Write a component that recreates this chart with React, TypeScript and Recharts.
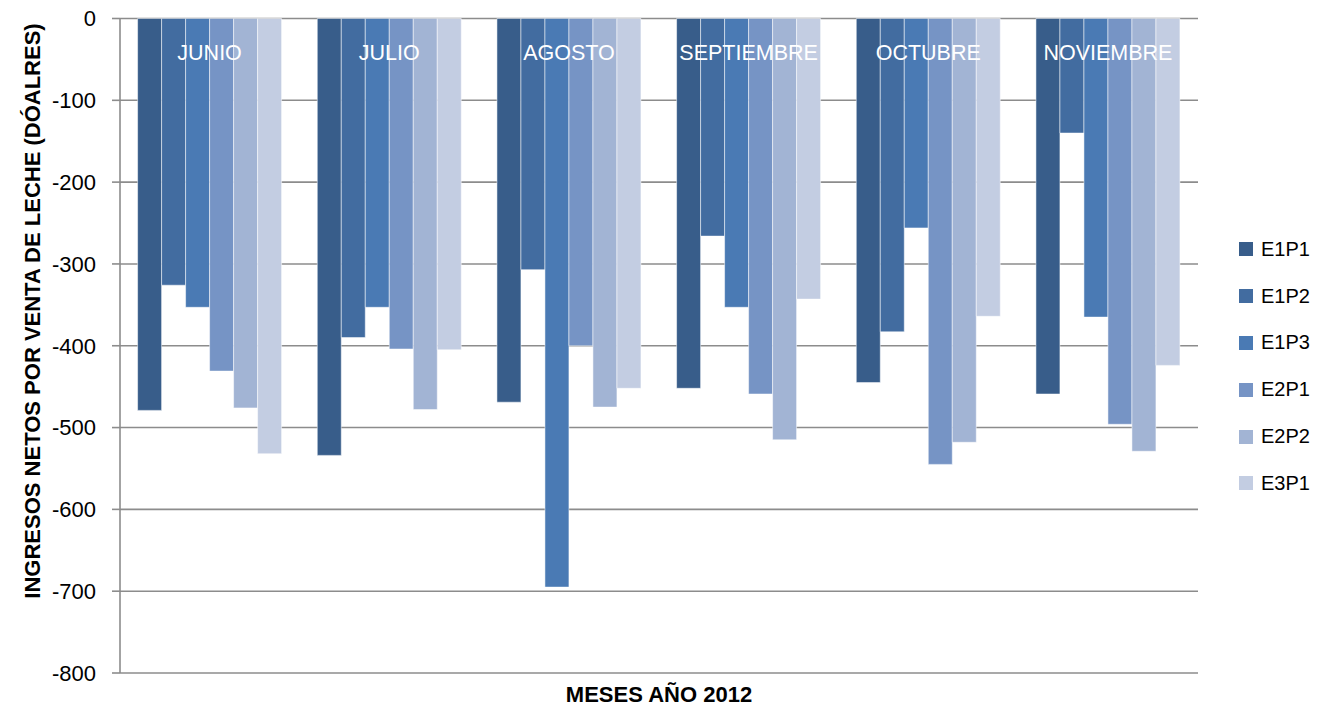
import { BarChart, Bar, XAxis, YAxis, CartesianGrid, LabelList } from 'recharts'

const MESES = ['JUNIO', 'JULIO', 'AGOSTO', 'SEPTIEMBRE', 'OCTUBRE', 'NOVIEMBRE']
const SERIES = ['E1P1', 'E1P2', 'E1P3', 'E2P1', 'E2P2', 'E3P1']
const E1P1 = [-479, -534, -469, -452, -445, -459]
const E1P2 = [-326, -390, -307, -266, -383, -140]
const E1P3 = [-353, -353, -695, -353, -256, -365]
const E2P1 = [-431, -404, -400, -459, -545, -496]
const E2P2 = [-476, -478, -475, -515, -518, -529]
const E3P1 = [-532, -405, -452, -343, -364, -424]
const Y_TICKS = [0, -100, -200, -300, -400, -500, -600, -700, -800]
const BOUNDARIES = [0, 1, 2, 3, 4, 5, 6]

const COLORS = ['#385d8a', '#426ca0', '#4a7ab4', '#7694c5', '#a2b4d4', '#c3cde2']
const FONT = '"Liberation Sans", Arial, sans-serif'
const GRID = '#8c8c8c'

const data = MESES.map((mes, i) => ({
  mes,
  E1P1: E1P1[i],
  E1P2: E1P2[i],
  E1P3: E1P3[i],
  E2P1: E2P1[i],
  E2P2: E2P2[i],
  E3P1: E3P1[i],
}))

// month name centred on the group: right edge of the 3rd of 6 bars
const MesLabel = (props: any) => {
  const { x, width, value } = props
  return (
    <text x={x + width} y={60} textAnchor="middle" fill="#ffffff" fontSize={21.5} fontFamily={FONT}>
      {value}
    </text>
  )
}

const YTitle = () => (
  <text
    x={40}
    y={311}
    transform="rotate(-90 40 311)"
    textAnchor="middle"
    fill="#000"
    fontSize={22}
    fontWeight="bold"
    fontFamily={FONT}
  >
    INGRESOS NETOS POR VENTA DE LECHE (DÓALRES)
  </text>
)

const LegendBox = () => (
  <div style={{ position: 'absolute', left: 1239, top: 226, fontFamily: FONT, fontSize: 20, color: '#000' }}>
    {SERIES.map((s, i) => (
      <div key={s} style={{ display: 'flex', alignItems: 'center', height: 46.8 }}>
        <span style={{ width: 14, height: 14, background: COLORS[i], marginRight: 8, display: 'inline-block' }} />
        <span>{s}</span>
      </div>
    ))}
  </div>
)

export default function App() {
  return (
    <div style={{ position: 'fixed', left: 0, top: 0, width: 1317, height: 710, background: '#fff' }}>
      <BarChart
        width={1317}
        height={710}
        data={data}
        margin={{ top: 18.5, right: 119, left: 0, bottom: 0 }}
        barCategoryGap="9.8%"
        barGap={0}
      >
        <CartesianGrid horizontal vertical={false} stroke={GRID} strokeWidth={1.6} />
        <XAxis dataKey="mes" orientation="top" mirror height={0} hide />
        <XAxis
          xAxisId="b"
          type="number"
          orientation="top"
          mirror
          height={0}
          domain={[0, 6]}
          ticks={BOUNDARIES}
          tick={false}
          tickSize={8}
          axisLine={{ stroke: GRID, strokeWidth: 1.6 }}
          tickLine={{ stroke: GRID, strokeWidth: 1.6 }}
        />
        <XAxis
          xAxisId="c"
          type="number"
          orientation="bottom"
          height={37}
          domain={[0, 6]}
          axisLine={false}
          tickLine={false}
          tick={false}
          label={{
            value: 'MESES AÑO 2012',
            position: 'insideBottom',
            offset: 8,
            fill: '#000',
            fontSize: 22,
            fontWeight: 'bold',
            fontFamily: FONT,
          }}
        />
        <YAxis
          width={120}
          domain={[-800, 0]}
          ticks={Y_TICKS}
          interval={0}
          tickSize={8}
          tickMargin={16}
          tick={{ fill: '#000', fontSize: 22, fontFamily: FONT }}
          axisLine={{ stroke: GRID, strokeWidth: 1.6 }}
          tickLine={{ stroke: GRID, strokeWidth: 1.6 }}
          label={{ content: <YTitle /> }}
        />
        {SERIES.map((s, i) => (
          <Bar
            key={s}
            dataKey={s}
            fill={COLORS[i]}
            stroke="#ffffff"
            strokeOpacity={0.5}
            strokeWidth={1}
            isAnimationActive={false}
          >
            {s === 'E1P3' && <LabelList dataKey="mes" content={<MesLabel />} />}
          </Bar>
        ))}
      </BarChart>
      <LegendBox />
    </div>
  )
}
